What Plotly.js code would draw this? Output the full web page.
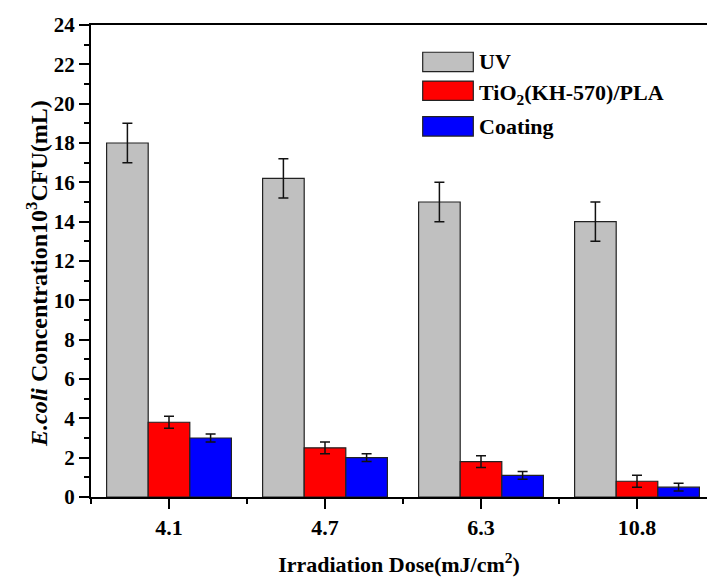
<!DOCTYPE html>
<html>
<head>
<meta charset="utf-8">
<script src="https://cdn.plot.ly/plotly-3.0.1.min.js"></script>
<style>html,body{margin:0;padding:0;background:#fff;}#chart{width:707px;height:581px;}</style>
</head>
<body>
<div id="chart"></div>
<script>
// ---- data ----
var doseLabels = ['4.1', '4.7', '6.3', '10.8'];
var seriesNames = ['UV', 'TiO<sub>2</sub>(KH-570)/PLA', 'Coating'];
var uvValues = [18.0, 16.2, 15.0, 14.0];
var uvErrors = [1.0, 1.0, 1.0, 1.0];
var tioValues = [3.8, 2.5, 1.8, 0.8];
var tioErrors = [0.3, 0.3, 0.3, 0.3];
var coatValues = [3.0, 2.0, 1.1, 0.5];
var coatErrors = [0.2, 0.2, 0.2, 0.2];
var seriesColors = ['#c0c0c0', '#ff0000', '#0000ff'];
var xTitle = 'Irradiation Dose(mJ/cm<sup>2</sup>)';
var yTitle = '<i>E.coli</i> Concentration10<sup>3</sup>CFU(mL)';

var xPos = doseLabels.map(function (d, i) { return i; });
var FONT = '"Liberation Serif", "Times New Roman", serif';

function barTrace(vals, errs, idx) {
  return {
    type: 'bar',
    x: xPos,
    y: vals,
    name: seriesNames[idx],
    marker: { color: seriesColors[idx], line: { color: '#222', width: 1.2 } },
    error_y: { type: 'data', array: errs, visible: true, color: '#111', thickness: 1.5, width: 5 },
    showlegend: false,
    hoverinfo: 'y'
  };
}

var data = [
  barTrace(uvValues, uvErrors, 0),
  barTrace(tioValues, tioErrors, 1),
  barTrace(coatValues, coatErrors, 2)
];

// plot area in pixels
var L = 91, R = 707, T = 24.7, B = 497.3;
var W = 707, H = 581;
function px2x(p) { return (p - L) / (R - L); }
function py2y(p) { return (B - p) / (B - T); }

var legendRows = [61.7, 90.5, 126.2];
var shapes = [], annotations = [];
seriesNames.forEach(function (n, i) {
  var cy = legendRows[i];
  shapes.push({
    type: 'rect', xref: 'paper', yref: 'paper',
    x0: px2x(422.7), x1: px2x(473.3), y0: py2y(cy - 9.7), y1: py2y(cy + 9.7),
    fillcolor: seriesColors[i], line: { color: '#222', width: 1.2 }
  });
  annotations.push({
    xref: 'paper', yref: 'paper', x: px2x(477), y: py2y(cy + (i === 1 ? 3 : 0)),
    xanchor: 'left', yanchor: 'middle', showarrow: false,
    text: '<b>' + n + '</b>', font: { family: FONT, size: 22, color: '#000' }
  });
});
// y-axis title placed as a rotated annotation
annotations.push({
  xref: 'paper', yref: 'paper', x: px2x(37), y: py2y(274),
  xanchor: 'center', yanchor: 'middle', showarrow: false, textangle: -90,
  text: '<b>' + yTitle + '</b>', font: { family: FONT, size: 24, color: '#000' }
});

var layout = {
  width: W, height: H,
  margin: { l: L, r: W - R, t: T, b: H - B, pad: 0 },
  paper_bgcolor: '#fff', plot_bgcolor: '#fff',
  barmode: 'group', bargap: 0.2, bargroupgap: 0,
  font: { family: FONT, color: '#000' },
  showlegend: false,
  xaxis: {
    type: 'linear',
    range: [-0.5, -0.5 + (R - L) / 156],
    tickmode: 'array', tickvals: xPos, ticktext: doseLabels.map(function (s) { return '<b>' + s + '</b>'; }),
    ticks: 'outside', ticklen: 10, tickwidth: 2, tickcolor: '#000',
    minor: { tick0: -0.5, dtick: 1, ticks: 'outside', ticklen: 5, tickwidth: 2, tickcolor: '#000', showgrid: false },
    showline: true, linewidth: 2, linecolor: '#000', mirror: true,
    showgrid: false, zeroline: false,
    tickfont: { family: FONT, size: 22, color: '#000' },
    title: { text: '<b>' + xTitle + '</b>', font: { family: FONT, size: 22, color: '#000' }, standoff: 17 }
  },
  yaxis: {
    range: [0, 24], dtick: 2, tick0: 0,
    ticks: 'outside', ticklen: 10, tickwidth: 2, tickcolor: '#000',
    minor: { dtick: 1, ticks: 'outside', ticklen: 5, tickwidth: 2, tickcolor: '#000', showgrid: false },
    showline: true, linewidth: 2, linecolor: '#000', mirror: false,
    showgrid: false, zeroline: false,
    tickprefix: '<b>', ticksuffix: '</b>',
    tickfont: { family: FONT, size: 21, color: '#000' }
  },
  shapes: shapes,
  annotations: annotations
};

Plotly.newPlot('chart', data, layout, { displayModeBar: false, staticPlot: true });
</script>
</body>
</html>
